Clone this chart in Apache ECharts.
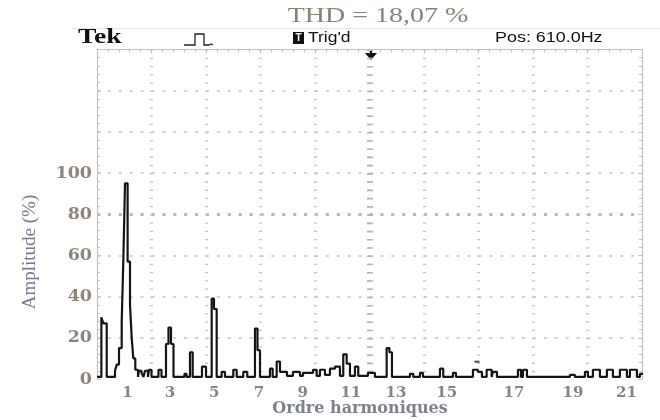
<!DOCTYPE html>
<html><head><meta charset="utf-8">
<script src="https://cdn.jsdelivr.net/npm/echarts@6/dist/echarts.min.js"></script>
<style>html,body{margin:0;padding:0;background:#fff}#c{width:660px;height:420px}</style>
</head><body><div id="c"></div>
<script>
// Tick labels of the harmonic-order axis and where they sit on it (in harmonic-order units)
const tickLabels = ['1','3','5','7','9','11','13','15','17','19','21'];
const tickPos = [1.07, 3.01, 5.04, 7.09, 9.1, 11.3, 13.37, 15.69, 18.77, 21.48, 23.93];
const yTickMaxLabel = 100;

// Spectrum trace (step): start position of each step (harmonic order) and its amplitude (%)
const orderPos = [-0.33,-0.13,-0.04,0.115,0.495,0.573,0.678,0.802,0.875,0.953,1.072,1.182,1.260,1.333,1.425,1.548,
  1.594,1.709,1.800,1.869,2.006,2.052,2.167,2.487,2.625,2.831,2.945,3.060,3.175,3.678,3.770,3.930,4.054,4.480,4.663,
  4.924,5.030,5.153,5.382,5.534,5.914,6.070,6.372,6.555,6.908,7.023,7.137,7.595,7.719,7.902,8.053,8.374,8.648,8.969,
  9.107,9.565,9.734,9.885,10.114,10.343,10.572,10.801,10.953,11.109,11.260,11.489,11.640,12.084,12.405,12.941,13.069,
  13.184,14.009,14.160,14.467,14.604,15.383,15.534,15.978,16.116,16.894,17.123,17.306,17.522,17.751,17.810,17.994,
  18.956,19.093,19.185,19.368,21.338,21.567,22.025,22.162,22.391,22.712,23.032,23.307,23.628,23.949,24.087,24.408,
  24.545,24.683];
const amplitude = [1,30,27,1,4,7,15,28,57,95,57,36,20,10,4.5,1,
  4,3,1,4,1,4.5,1,4.5,1,17,25,17,1,2.5,1,13,1,6,1,
  39,34,1,3.5,1,4.5,1,3.5,1,24.5,14,1,5,1,8.5,3.5,1.5,3.5,1.5,
  3,4.5,1.5,4.5,2,5,6,1.5,12,7.5,1.5,6,1.5,3,1,15,13,
  1,2.5,1,3,1,5,1,3,1,4.5,3.5,1,4.5,1,3.5,1,
  4.5,1,4.5,1,2,1,3.5,1,4.5,1,4.5,1,4.5,1,4.5,1,
  2.5,2.5];
// isolated small dash above the trace
const dashPos = [17.08];
const dashVal = [8.4];

const trace = orderPos.map((x, i) => [x, amplitude[i]]);
const dashes = dashPos.map((x, i) => [x, dashVal[i]]);

const gridGray = '#c4c4c4';
const frameGray = '#c2c2c2';
const chart = echarts.init(document.getElementById('c'));
chart.setOption({
  animation: false,
  backgroundColor: '#fff',
  grid: {left: 97, right: 18, top: 49.5, bottom: 41, show: false},
  xAxis: [
    {type: 'value', min: -0.33, max: 24.64, position: 'bottom',
     axisLine: {show: false, onZero: false}, axisTick: {show: false}, splitLine: {show: false},
     axisLabel: {customValues: tickPos, margin: 7,
       formatter: v => { const i = tickPos.indexOf(v); return i >= 0 ? tickLabels[i] : ''; },
       fontFamily: 'DejaVu Serif', fontWeight: 'bold', fontSize: 15, color: '#8a8480'}},
    {type: 'value', min: 0, max: 10, interval: 1, position: 'top',
     axisLine: {show: true, onZero: false, lineStyle: {color: frameGray, width: 1.2}},
     axisTick: {show: true, inside: true, length: 4, lineStyle: {color: frameGray}}, axisLabel: {show: false},
     minorTick: {show: true, splitNumber: 5, length: 3, lineStyle: {color: frameGray}},
     splitLine: {show: true, showMinLine: false, showMaxLine: false,
       lineStyle: {color: gridGray, width: 3, type: [1.3, 6.94]}}},
    {type: 'value', min: 0, max: 10, interval: 5, position: 'bottom',
     axisLine: {show: false, onZero: false}, axisTick: {show: false}, axisLabel: {show: false},
     splitLine: {show: true, showMinLine: false, showMaxLine: false,
       lineStyle: {color: '#b4b4b4', width: 6, type: [1.6, 6.64]}}}
  ],
  yAxis: [
    {type: 'value', min: 0, max: 160, interval: 20, position: 'left',
     axisLine: {show: true, onZero: false, lineStyle: {color: frameGray, width: 1.2}},
     axisTick: {show: true, inside: true, length: 4, lineStyle: {color: frameGray}},
     minorTick: {show: true, splitNumber: 5, length: 3, lineStyle: {color: frameGray}},
     axisLabel: {margin: 5, formatter: v => v <= yTickMaxLabel ? String(v) : '',
       fontFamily: 'DejaVu Serif', fontWeight: 'bold', fontSize: 17.5, color: '#8f8579'},
     splitLine: {show: true, showMinLine: false, showMaxLine: false,
       lineStyle: {color: gridGray, width: 1.5, type: [3, 7.9]}}},
    {type: 'value', min: 0, max: 8, interval: 1, position: 'right',
     axisLine: {show: true, onZero: false, lineStyle: {color: frameGray, width: 1.2}},
     axisTick: {show: true, inside: true, length: 4, lineStyle: {color: frameGray}}, axisLabel: {show: false},
     minorTick: {show: true, splitNumber: 5, length: 3, lineStyle: {color: frameGray}},
     splitLine: {show: false}},
    {type: 'value', min: 0, max: 8, interval: 4, position: 'right',
     axisLine: {show: false, onZero: false}, axisTick: {show: false}, axisLabel: {show: false},
     splitLine: {show: true, showMinLine: false, showMaxLine: false,
       lineStyle: {color: '#b8b8b8', width: 3, type: [3, 7.9]}}}
  ],
  series: [
    {type: 'line', xAxisIndex: 0, yAxisIndex: 0, data: trace, step: 'end',
     symbol: 'none', lineStyle: {color: '#151515', width: 2.2}, z: 5},
    {type: 'scatter', xAxisIndex: 0, yAxisIndex: 0, data: dashes,
     symbol: 'rect', symbolSize: [5, 2], itemStyle: {color: '#222'}, z: 5}
  ],
  graphic: [
    {type: 'text', x: 378, y: 17, scaleX: 1.4, style: {text: 'THD = 18,07 %', font: '20px "Liberation Serif"', fill: '#8d8075', align: 'center', verticalAlign: 'middle'}},
    {type: 'line', shape: {x1: 72, y1: 28.5, x2: 660, y2: 28.5}, style: {stroke: '#e4e4e4', lineWidth: 1}},
    {type: 'text', x: 78, y: 38, scaleX: 1.38, style: {text: 'Tek', font: 'bold 20px "Liberation Serif"', fill: '#111', verticalAlign: 'middle'}},
    {type: 'polyline', shape: {points: [[184, 45], [195, 45], [195, 34], [204, 34], [204, 45], [209, 45], [211, 44], [213, 45]]},
     style: {stroke: '#222', lineWidth: 1.3, fill: null}},
    {type: 'rect', shape: {x: 293, y: 32, width: 11, height: 12}, style: {fill: '#111'}},
    {type: 'text', x: 298.5, y: 38.5, style: {text: 'T', font: 'bold 10px "Liberation Sans"', fill: '#fff', align: 'center', verticalAlign: 'middle'}},
    {type: 'text', x: 308, y: 38, scaleX: 1.25, style: {text: "Trig'd", font: '14px "Liberation Sans"', fill: '#111', verticalAlign: 'middle'}},
    {type: 'text', x: 495, y: 38, scaleX: 1.28, style: {text: 'Pos: 610.0Hz', font: '14px "Liberation Sans"', fill: '#111', verticalAlign: 'middle'}},
    {type: 'line', shape: {x1: 371, y1: 49, x2: 371, y2: 56}, style: {stroke: '#111', lineWidth: 2.2}},
    {type: 'polygon', shape: {points: [[365, 53], [377, 53], [371, 60]]}, style: {fill: '#111'}},
    {type: 'text', x: 30, y: 252, rotation: Math.PI / 2, style: {text: 'Amplitude (%)', font: '19px "Liberation Serif"', fill: '#757a8c', align: 'center', verticalAlign: 'middle'}},
    {type: 'text', x: 360, y: 409, style: {text: 'Ordre harmoniques', font: 'bold 16px "DejaVu Serif"', fill: '#7e8190', align: 'center', verticalAlign: 'middle'}}
  ]
});
</script></body></html>
